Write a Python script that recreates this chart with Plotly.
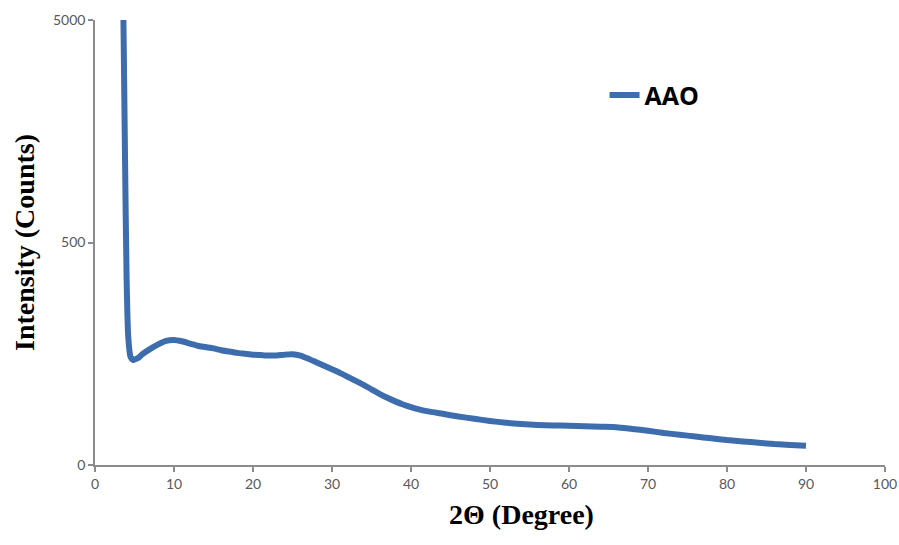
import math
import plotly.graph_objects as go

# ---- data ----
two_theta = [3.6, 3.8, 4.0, 4.2, 4.5, 4.8, 5, 5.5, 6, 7, 8, 9, 10, 11, 12, 13, 14, 15, 16, 17,
             18, 19, 20, 21, 22, 23, 24, 25, 26, 27, 28, 29, 30, 31, 32, 33, 34, 35, 36, 37,
             38, 39, 40, 41, 42, 44, 46, 48, 50, 52, 54, 56, 58, 60, 62, 64, 66, 68, 70, 72,
             74, 76, 78, 80, 82, 84, 86, 88, 90]
intensity = [5000, 1200, 420, 290, 243, 236, 237, 241, 249, 261, 271, 279, 281, 278, 273, 268, 265, 262, 258, 255,
             252, 250, 248, 247, 246, 246, 248, 249, 246, 239, 231, 223, 215, 207, 198, 189, 180, 170, 160, 151,
             143, 136, 130, 125, 121, 115, 109, 104, 99, 95, 92, 90, 89, 88, 87, 86, 85, 81, 77, 72,
             68, 64, 60, 56, 53, 50, 47, 45, 43]
series_name = "AAO"
y_tick_values = [0, 500, 5000]
y_tick_labels = ["0", "500", "5000"]
x_tick_values = [0, 10, 20, 30, 40, 50, 60, 70, 80, 90, 100]


# broken axis: linear 0-500, logarithmic 500-5000 over the same height
def axis_pos(v):
    if v <= 500:
        return v
    return 500 + 500 * math.log10(v / 500)


y_disp = [axis_pos(v) for v in intensity]

fig = go.Figure()
fig.add_trace(go.Scatter(
    x=two_theta, y=y_disp, mode="lines", name=series_name,
    line=dict(color="#3E6DAE", width=6, shape="spline", smoothing=0.6),
    hovertext=[str(v) for v in intensity],
))

tick_font = dict(family="Lato, 'Open Sans', sans-serif", size=14, color="#595959")
title_font = dict(family="'Liberation Serif', 'Times New Roman', serif", size=28, color="#000000")

fig.update_layout(
    width=899, height=545,
    margin=dict(l=95, r=14, t=20, b=80),
    paper_bgcolor="white", plot_bgcolor="white",
    showlegend=True,
    legend=dict(
        x=0.645, y=0.831, xanchor="left", yanchor="middle",
        font=dict(family="'Open Sans', sans-serif", size=25, color="#000000", weight="bold"),
        bgcolor="rgba(0,0,0,0)", borderwidth=0,
    ),
    xaxis=dict(
        range=[0, 100], tickvals=x_tick_values,
        showgrid=False, zeroline=False, automargin=False,
        showline=True, linecolor="#8C8C8C", linewidth=1.5,
        ticks="outside", ticklen=5, tickcolor="#8C8C8C", tickwidth=1.5,
        tickfont=tick_font,
        title=dict(text="&nbsp;" * 9 + "<b>2Θ (Degree)</b>", font=title_font, standoff=14),
    ),
    yaxis=dict(
        range=[0, axis_pos(5000)],
        tickvals=[axis_pos(v) for v in y_tick_values], ticktext=y_tick_labels,
        showgrid=False, zeroline=False, automargin=False,
        showline=True, linecolor="#8C8C8C", linewidth=1.5,
        ticks="outside", ticklen=5, tickcolor="#8C8C8C", tickwidth=1.5,
        tickfont=tick_font,
        title=dict(text="<b>Intensity (Counts)</b>", font=title_font, standoff=10),
    ),
)

fig.write_html("out.html")
